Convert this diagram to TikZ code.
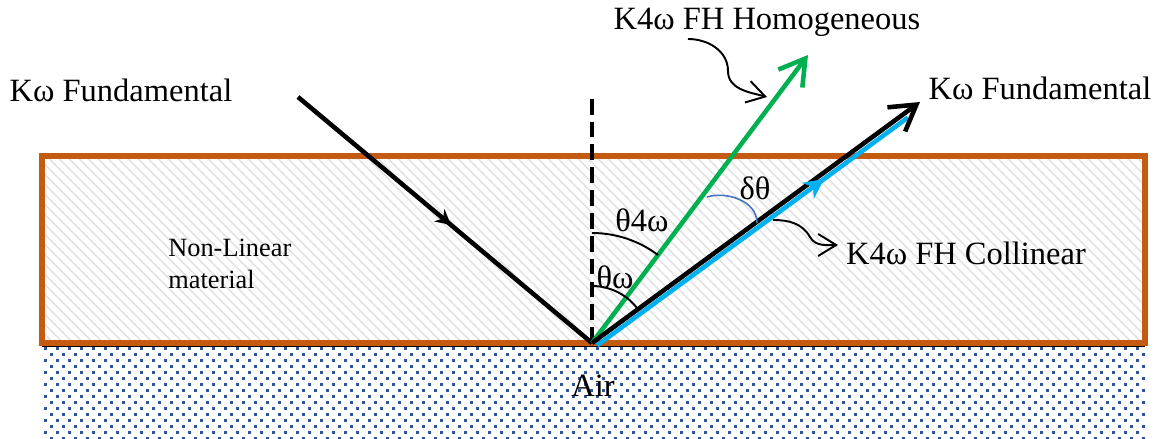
\documentclass[tikz,border=0pt]{standalone}
\usepackage{fontspec}
\setmainfont{Liberation Serif}
\usetikzlibrary{arrows.meta,patterns.meta,decorations.markings}

\definecolor{slab}{HTML}{C55A11}
\definecolor{fhgreen}{HTML}{00B050}
\definecolor{fhblue}{HTML}{00B0F0}
\definecolor{airblue}{HTML}{2F5597}
\definecolor{arcblue}{HTML}{4472C4}

\tikzset{
  ray/.style={line width=2.6pt},
  lbl/.style={font=\fontsize{18.5}{22}\selectfont, inner sep=0pt},
  pointer/.style={line width=1.1pt, -{Straight Barb[length=3.6mm,width=4.4mm]}},
  anglearc/.style={line width=1.1pt},
}

\begin{document}
\begin{tikzpicture}[x=0.02cm,y=0.02cm]
  \useasboundingbox (-592,-96) rectangle (567,343);

  % air
  \foreach \row in {0,...,15}{
    \foreach \col in {0,...,91}{
      \fill[airblue] ({-548+12*\col+6*mod(\row,2)},{-4-6*\row}) rectangle +(2.8,-2.8);
    }
  }

  % slab
  \fill[pattern={Lines[angle=-45,distance=4pt,line width=1pt]}, pattern color=gray!22]
    (-550,0) rectangle (553,187);
  \draw[line width=0.8pt] (-550,-3) -- (553,-3);
  \draw[slab, line width=3pt] (-550,0) rectangle (553,187);

  \coordinate (O) at (0,0);
  \coordinate (inc) at (-294,246);
  \coordinate (normtop) at (0,246);
  \coordinate (fundtip) at (328,241);
  \coordinate (homtip) at (216,288);
  \coordinate (colA) at (5,-2.5);
  \coordinate (colB) at (316,225.5);

  % normal and rays
  \draw[line width=2pt, dash pattern=on 9pt off 4pt] (O) -- (normtop);
  \draw[ray, postaction={decorate}, decoration={markings,
      mark=at position 0.52 with {\arrow{Stealth[length=3mm,width=3.2mm]}}}] (inc) -- (O);
  \draw[ray, fhgreen, -{Straight Barb[length=5mm,width=6mm]}] (O) -- (homtip);
  \draw[ray, fhblue] (colA) -- (colB);
  \draw[ray, -{Straight Barb[length=5mm,width=6mm]}] (O) -- (fundtip);
  \path[postaction={decorate}, decoration={markings,
      mark=at position 0.73 with {\arrow[fhblue]{Stealth[length=4mm,width=4mm]}}}] (colA) -- (colB);

  % angles
  \draw[anglearc] (0,57) arc[start angle=90, end angle=36.3, radius=57];
  \draw[anglearc] (0,110) arc[start angle=90, end angle=53.1, radius=110];
  \draw[arcblue, line width=0.9pt] (115,146) .. controls (135,152) and (165,142) .. (165,120);

  \node[lbl] (thw) at (23,66) {θω};
  \node[lbl] (th4w) at (50,123) {θ4ω};
  \node[lbl] (dth) at (163,155) {δθ};

  % labels
  \node[lbl] (kwin) at (-471,253) {Kω Fundamental};
  \node[lbl] (kwout) at (448,255) {Kω Fundamental};
  \node[lbl] (homog) at (175,321) {K4ω FH Homogeneous};
  \node[lbl] (colli) at (374,90) {K4ω FH Collinear};
  \node[lbl, anchor=west, align=left, font=\fontsize{15}{18}\selectfont] (nlm) at (-424,79) {Non-Linear\\material};
  \node[lbl] (air) at (1,-43) {Air};

  % pointers
  \coordinate (homsrc) at (96,304);
  \coordinate (homdst) at (175,246);
  \draw[pointer] (homsrc) to[out=0,in=90] (136,272) to[out=-90,in=165] (homdst);
  \coordinate (colsrc) at (181,123);
  \coordinate (coldst) at (246,98);
  \draw[pointer] (colsrc) to[out=0,in=120] (218,106) to[out=-60,in=180] (coldst);
\end{tikzpicture}
\end{document}
